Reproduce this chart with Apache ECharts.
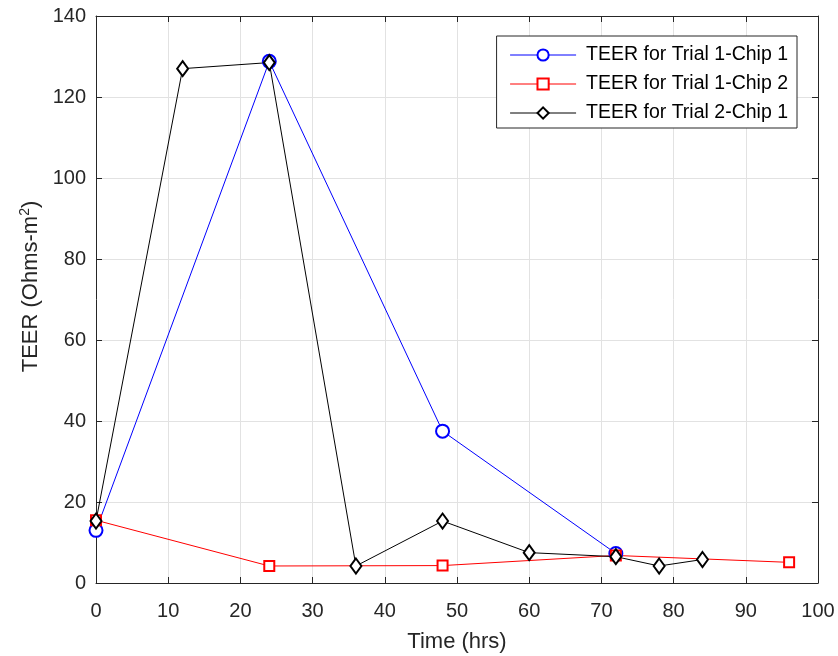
<!DOCTYPE html>
<html>
<head>
<meta charset="utf-8">
<script src="https://cdn.jsdelivr.net/npm/echarts@6/dist/echarts.min.js"></script>
<style>html,body{margin:0;padding:0;background:#fff}#c{width:838px;height:656px}</style>
</head>
<body>
<div id="c"></div>
<script>
var seriesNames = ['TEER for Trial 1-Chip 1', 'TEER for Trial 1-Chip 2', 'TEER for Trial 2-Chip 1'];
var trial1chip1 = [[0, 13], [24, 128.8], [48, 37.5], [72, 7.3]];
var trial1chip2 = [[0, 15.5], [24, 4.2], [48, 4.3], [72, 6.8], [96, 5.1]];
var trial2chip1 = [[0, 15.3], [12, 127], [24, 128.5], [36, 4.2], [48, 15.3], [60, 7.5], [72, 6.5], [78, 4.2], [84, 5.8]];
var xTicks = [0, 10, 20, 30, 40, 50, 60, 70, 80, 90, 100];
var yTicks = [0, 20, 40, 60, 80, 100, 120, 140];

var axisColor = '#262626';
var font = 'Liberation Sans, Arial, sans-serif';
var chart = echarts.init(document.getElementById('c'));
var gridLine = {show: true, lineStyle: {color: '#e2e2e2', width: 1}};
chart.setOption({
  animation: false,
  backgroundColor: '#fff',
  grid: {left: 96, right: 20, top: 16, bottom: 73, show: false, containLabel: false, outerBoundsMode: 'none'},
  legend: {
    orient: 'vertical',
    right: 41,
    top: 36,
    data: seriesNames,
    backgroundColor: '#fff',
    borderColor: axisColor,
    borderWidth: 1,
    borderRadius: 0,
    padding: [9, 9, 5, 13],
    itemGap: 9,
    itemWidth: 66,
    itemHeight: 14,
    lineStyle: {width: 1},
    textStyle: {color: '#000', fontSize: 19.5, fontFamily: font, padding: [0, 0, 0, 5]}
  },
  xAxis: [{
    type: 'value', min: 0, max: 100, interval: 10,
    name: 'Time (hrs)', nameLocation: 'middle', nameGap: 48,
    nameTextStyle: {color: axisColor, fontSize: 22, fontFamily: font},
    axisLine: {show: true, onZero: false, lineStyle: {color: axisColor, width: 1}},
    axisTick: {show: true, inside: true, length: 6, lineStyle: {color: axisColor}},
    axisLabel: {color: axisColor, fontSize: 20, fontFamily: font, margin: 18,
      formatter: function (v) { return xTicks.indexOf(v) >= 0 ? String(v) : ''; }},
    splitLine: gridLine
  }, {
    type: 'value', min: 0, max: 100, interval: 10, position: 'top',
    axisLine: {show: true, onZero: false, lineStyle: {color: axisColor, width: 1}},
    axisTick: {show: true, inside: true, length: 6, lineStyle: {color: axisColor}},
    axisLabel: {show: false}, splitLine: {show: false}
  }],
  yAxis: [{
    type: 'value', min: 0, max: 140, interval: 20,
    name: 'TEER (Ohms-m{sup|2})', nameLocation: 'middle', nameGap: 52, nameRotate: 90,
    nameTextStyle: {color: axisColor, fontSize: 22, fontFamily: font, padding: [0, 0, 0, 26],
      rich: {sup: {fontSize: 14, verticalAlign: 'top', color: axisColor, fontFamily: font, padding: [0, 0, 12, 0]}}},
    axisLine: {show: true, onZero: false, lineStyle: {color: axisColor, width: 1}},
    axisTick: {show: true, inside: true, length: 6, lineStyle: {color: axisColor}},
    axisLabel: {color: axisColor, fontSize: 20, fontFamily: font, margin: 10,
      formatter: function (v) { return yTicks.indexOf(v) >= 0 ? String(v) : ''; }},
    splitLine: gridLine
  }, {
    type: 'value', min: 0, max: 140, interval: 20, position: 'right',
    axisLine: {show: true, onZero: false, lineStyle: {color: axisColor, width: 1}},
    axisTick: {show: true, inside: true, length: 6, lineStyle: {color: axisColor}},
    axisLabel: {show: false}, splitLine: {show: false}
  }],
  series: [{
    name: seriesNames[0], type: 'line', data: trial1chip1,
    symbol: 'emptyCircle', symbolSize: 13,
    lineStyle: {color: '#0000ff', width: 1},
    itemStyle: {color: '#0000ff', borderColor: '#0000ff', borderWidth: 1}
  }, {
    name: seriesNames[1], type: 'line', data: trial1chip2,
    symbol: 'emptyRect', symbolSize: 10,
    lineStyle: {color: '#ff0000', width: 1},
    itemStyle: {color: '#ff0000', borderColor: '#ff0000', borderWidth: 1}
  }, {
    name: seriesNames[2], type: 'line', data: trial2chip1,
    symbol: 'emptyDiamond', symbolSize: [11, 15],
    lineStyle: {color: '#000000', width: 1},
    itemStyle: {color: '#000000', borderColor: '#000000', borderWidth: 1}
  }]
});
</script>
</body>
</html>
